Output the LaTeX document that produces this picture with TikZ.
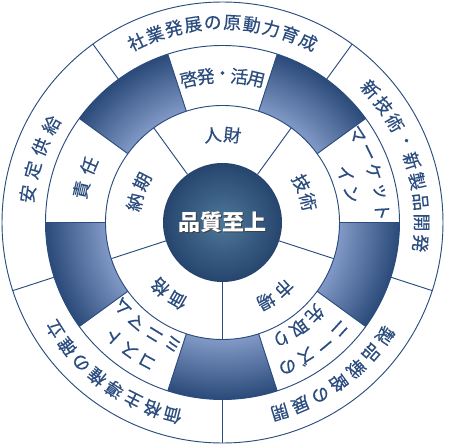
\documentclass[tikz,border=0pt]{standalone}
\usepackage{fontspec}
\newfontfamily\jpfont[FakeBold=0.35]{Noto Sans CJK JP}
\newfontfamily\jpbold{Noto Sans CJK JP}
\definecolor{navy}{HTML}{2B4C7E}
\definecolor{banddark}{HTML}{2A4A79}
\definecolor{bandlight}{HTML}{8199C6}
\definecolor{coredark}{HTML}{26456E}
\definecolor{corelight}{HTML}{4E7898}
\pgfdeclareradialshading{bandshade}{\pgfpoint{0bp}{0bp}}{color(0bp)=(bandlight); color(16.5bp)=(bandlight); color(25bp)=(banddark); color(50bp)=(banddark)}
\tikzset{
  ring/.style={draw=navy, line width=0.7pt},
  glyph/.style={text=navy, font=\jpfont\fontsize{13.3}{15}\selectfont, inner sep=0pt},
  corelabel/.style={font=\jpbold\bfseries\fontsize{16.5}{18}\selectfont, inner sep=0pt}
}
% name, radius, centre angle, step, count, characters
\newcommand{\arctext}[6]{%
  \foreach \ch [count=\i, evaluate=\i as \a using {#3-(\i-(#5+1)/2)*#4}] in {#6}
    \node[glyph, rotate=\a-90] (#1-\i) at (\a:#2) {\ch};
}
\begin{document}
\begin{tikzpicture}[x=0.75pt, y=0.75pt]
  \useasboundingbox[fill=white] (-222.5,-223.5) rectangle (227.5,222.5);

  % shaded sectors of the middle ring
  \foreach \a in {54,126,198,270,342} {
    \begin{scope}
      \clip ({\a-18}:117) arc[start angle=\a-18, end angle=\a+18, radius=117]
        -- ({\a+18}:177) arc[start angle=\a+18, end angle=\a-18, radius=177] -- cycle;
      \shade[shading=bandshade] (0,0) circle (177);
    \end{scope}
  }

  % rings and dividers
  \draw[ring] (0,0) circle (220.5) (0,0) circle (177) (0,0) circle (117);
  \foreach \a in {54,126,198,270,342} {
    \draw[ring] (\a:59.5) -- (\a:117);
    \draw[ring] (\a:177) -- (\a:220.5);
  }
  \foreach \a in {0,36,...,324}
    \draw[ring] (\a:117) -- (\a:177);

  \shade[inner color=corelight, outer color=coredark] (0,0) circle (59.5);
  \node[corelabel, text=black!75] (core-shadow) at (0.9,-0.9) {品質至上};
  \node[corelabel, text=white] (core) at (0,0) {品質至上};

  % outer ring
  \arctext{top}{200}{90}{5.64}{10}{社,業,発,展,の,原,動,力,育,成}
  \arctext{right}{199}{18}{6}{9}{新,技,術,・,新,製,品,開,発}
  \arctext{lowright}{198}{-54}{6.4}{7}{製,品,戦,略,の,展,開}
  \arctext{lowleft}{199}{-126}{6.14}{8}{価,格,主,導,権,の,確,立}
  \arctext{left}{197}{161}{7.1}{4}{安,定,供,給}

  % middle ring
  \arctext{hr}{147}{90}{6.6}{5}{啓,発,・,活,用}
  \arctext{resp}{145}{162}{9.9}{2}{責,任}
  \arctext{mkt-a}{160}{18.5}{7.3}{5}{マ,ー,ケ,ッ,ト}
  \arctext{mkt-b}{132}{17}{9.2}{2}{イ,ン}
  \arctext{needs-a}{158}{-54}{7.8}{4}{ニ,ー,ズ,の}
  \arctext{needs-b}{130}{-54}{9.3}{3}{先,取,り}
  \arctext{cost-a}{158}{-126}{7.6}{3}{コ,ス,ト}
  \arctext{cost-b}{131}{-126}{9.2}{4}{ミ,ニ,マ,ム}

  % inner ring
  \arctext{people}{88}{90}{13}{2}{人,財}
  \arctext{tech}{88}{20}{13}{2}{技,術}
  \arctext{market}{90}{-54}{14}{2}{市,場}
  \arctext{price}{90}{-127}{14}{2}{価,格}
  \arctext{lead}{90}{160}{14}{2}{納,期}
\end{tikzpicture}
\end{document}
